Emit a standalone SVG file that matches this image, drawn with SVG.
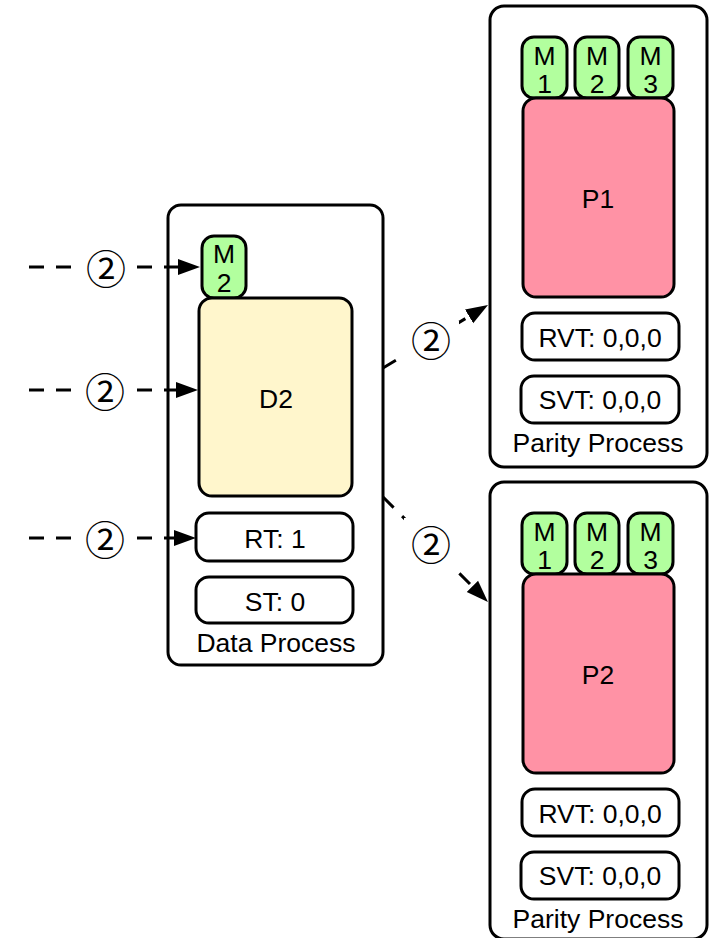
<svg xmlns="http://www.w3.org/2000/svg" width="714" height="938" viewBox="0 0 714 938">
  <style>
    .proc { fill: #ffffff; stroke: #000; stroke-width: 3; }
    .msg { fill: #b2ff9e; stroke: #000; stroke-width: 3; }
    .data { fill: #fff6cc; stroke: #000; stroke-width: 3; }
    .parity { fill: #ff92a5; stroke: #000; stroke-width: 3; }
    .reg { fill: #ffffff; stroke: #000; stroke-width: 3; }
    text { font-family: "Liberation Sans", Arial, sans-serif; font-size: 26.5px; fill: #000; text-anchor: middle; }
    .step { font-family: "Noto Sans CJK JP", "DejaVu Sans", sans-serif; font-size: 40px; dominant-baseline: central; }
    .edge { fill: none; stroke: #000; stroke-width: 3; stroke-dasharray: 15 12; marker-end: url(#arrow); }
    .gap { fill: #ffffff; }
  </style>
  <defs>
    <marker id="arrow" markerUnits="userSpaceOnUse" markerWidth="24" markerHeight="18" refX="0" refY="8" orient="auto" viewBox="0 0 24 16">
      <path d="M0,0 L22,8 L0,16 z" fill="#000"/>
    </marker>
  </defs>

  <!-- data process -->
  <g id="data-process">
    <rect class="proc" x="168" y="205" width="215" height="460" rx="13"/>
    <text x="276" y="652">Data Process</text>
  </g>
  <g id="data-m2">
    <rect class="msg" x="202" y="236" width="44" height="62" rx="12"/>
    <text x="224" y="263">M</text>
    <text x="224" y="292">2</text>
  </g>
  <g id="d2">
    <rect class="data" x="199" y="298" width="153" height="198" rx="13"/>
    <text x="276" y="408">D2</text>
  </g>
  <g id="rt">
    <rect class="reg" x="196" y="513" width="157" height="48" rx="13"/>
    <text x="275" y="548">RT: 1</text>
  </g>
  <g id="st">
    <rect class="reg" x="196" y="577" width="157" height="46" rx="13"/>
    <text x="275" y="611">ST: 0</text>
  </g>

  <!-- parity process 1 -->
  <g id="parity-process-1">
    <rect class="proc" x="490" y="6" width="217" height="461" rx="14"/>
    <text x="598" y="452">Parity Process</text>
  </g>
  <g id="p1-m1">
    <rect class="msg" x="522" y="37" width="45" height="61" rx="12"/>
    <text x="544.5" y="65">M</text>
    <text x="544.5" y="93">1</text>
  </g>
  <g id="p1-m2">
    <rect class="msg" x="575" y="37" width="44" height="61" rx="12"/>
    <text x="597" y="65">M</text>
    <text x="597" y="93">2</text>
  </g>
  <g id="p1-m3">
    <rect class="msg" x="628" y="37" width="45" height="61" rx="12"/>
    <text x="650.5" y="65">M</text>
    <text x="650.5" y="93">3</text>
  </g>
  <g id="p1">
    <rect class="parity" x="523" y="98" width="151" height="199" rx="13"/>
    <text x="598" y="208">P1</text>
  </g>
  <g id="p1-rvt">
    <rect class="reg" x="522" y="313" width="157" height="47" rx="13"/>
    <text x="600" y="347">RVT: 0,0,0</text>
  </g>
  <g id="p1-svt">
    <rect class="reg" x="521" y="376" width="158" height="47" rx="13"/>
    <text x="600" y="409">SVT: 0,0,0</text>
  </g>

  <!-- parity process 2 -->
  <g id="parity-process-2">
    <rect class="proc" x="490" y="482" width="217" height="457" rx="14"/>
    <text x="598" y="928">Parity Process</text>
  </g>
  <g id="p2-m1">
    <rect class="msg" x="522" y="513" width="45" height="61" rx="12"/>
    <text x="544.5" y="541">M</text>
    <text x="544.5" y="569">1</text>
  </g>
  <g id="p2-m2">
    <rect class="msg" x="575" y="513" width="44" height="61" rx="12"/>
    <text x="597" y="541">M</text>
    <text x="597" y="569">2</text>
  </g>
  <g id="p2-m3">
    <rect class="msg" x="628" y="513" width="45" height="61" rx="12"/>
    <text x="650.5" y="541">M</text>
    <text x="650.5" y="569">3</text>
  </g>
  <g id="p2">
    <rect class="parity" x="523" y="574" width="151" height="199" rx="13"/>
    <text x="598" y="684">P2</text>
  </g>
  <g id="p2-rvt">
    <rect class="reg" x="522" y="789" width="157" height="47" rx="13"/>
    <text x="600" y="823">RVT: 0,0,0</text>
  </g>
  <g id="p2-svt">
    <rect class="reg" x="521" y="852" width="158" height="47" rx="13"/>
    <text x="600" y="885">SVT: 0,0,0</text>
  </g>

  <!-- connectors -->
  <g id="connectors">
    <path class="edge" d="M29,267 H178"/>
    <path class="edge" d="M29,390 H176"/>
    <path class="edge" d="M29,538 H174"/>
    <path class="edge" d="M383,368 L469.1,316.4"/>
    <path class="edge" d="M383,497 L472.4,586.4"/>
  </g>

  <!-- step labels on the connectors -->
  <g id="labels">
    <rect class="gap" x="76" y="248" width="58" height="38"/>
    <text class="step" x="106" y="267">②</text>
    <rect class="gap" x="76" y="371" width="58" height="38"/>
    <text class="step" x="105" y="390">②</text>
    <rect class="gap" x="76" y="519" width="58" height="38"/>
    <text class="step" x="105" y="538">②</text>
    <rect class="gap" x="399" y="321" width="60" height="39"/>
    <text class="step" x="431" y="339">②</text>
    <rect class="gap" x="404" y="518" width="54" height="54"/>
    <text class="step" x="431" y="543">②</text>
  </g>
</svg>
